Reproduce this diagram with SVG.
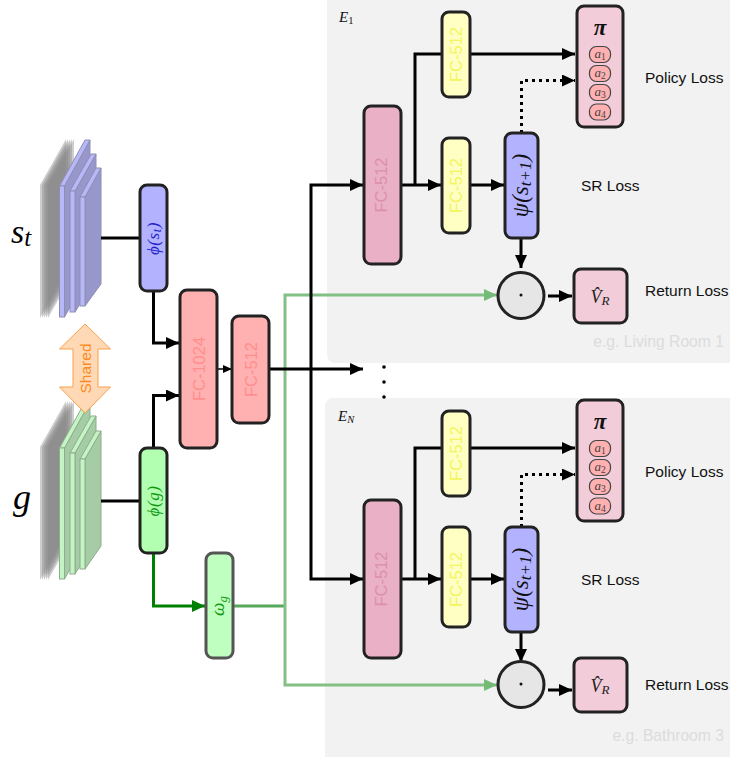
<svg xmlns="http://www.w3.org/2000/svg" xmlns:xlink="http://www.w3.org/1999/xlink" width="730" height="757" viewBox="0 0 730 757">
<style>
text{font-family:"Liberation Sans",Arial,sans-serif}
.m{font-family:"Liberation Serif","DejaVu Serif",serif;font-style:italic}
.r{font-style:normal}
.n{fill:#fff;stroke:#222;stroke-width:3}
.red{fill:#ffb0b0}.pink{fill:#eab0c6}.yel{fill:#ffffc4}.blu{fill:#b2b2ff}.grn{fill:#b2ffb2}.box{fill:#f2ccd9}
.fc{font-size:16.500px;text-anchor:middle}
.loss{font-size:15.500px;fill:#111}
.room{font-size:15.700px;fill:#dcdcdc;text-anchor:end}
.k{fill:none;stroke:#000;stroke-width:3}
.g{fill:none;stroke:#82c084;stroke-width:3}
.a{fill:#ffb0b0;stroke:#444;stroke-width:1.2}
</style>
<defs>
<marker id="ak" markerUnits="userSpaceOnUse" markerWidth="14" markerHeight="12" refX="13" refY="6" orient="auto"><path d="M0 0L13 6L0 12z" fill="#000"/></marker>
<marker id="as" markerUnits="userSpaceOnUse" markerWidth="9" markerHeight="8" refX="9" refY="4" orient="auto"><path d="M0 0L9 4L0 8z" fill="#000"/></marker>
<marker id="ag" markerUnits="userSpaceOnUse" markerWidth="14" markerHeight="12" refX="13" refY="6" orient="auto"><path d="M0 0L13 6L0 12z" fill="#008000"/></marker>
<marker id="al" markerUnits="userSpaceOnUse" markerWidth="14" markerHeight="12" refX="13" refY="6" orient="auto"><path d="M0 0L13 6L0 12z" fill="#74bb77"/></marker>
<g id="gray">
<path d="M40 185L66 139V272L40 318z" fill="#888" opacity=".42"/>
<path d="M42 185L68 139V272L42 318z" fill="#888" opacity=".42"/>
<path d="M44 185L70 139V272L44 318z" fill="#888" opacity=".42"/>
<path d="M46 185L72 139V272L46 318z" fill="#888" opacity=".42"/>
<path d="M48 185L74 139V272L48 318z" fill="#888" opacity=".42"/>
</g>
</defs>
<rect id="panel-e1" x="327" y="-20" width="420" height="383" rx="8" fill="#f2f2f2"/>
<rect id="panel-en" x="325" y="398" width="420" height="380" rx="8" fill="#f2f2f2"/>

<g id="stack-st">
<use xlink:href="#gray"/>
<g stroke="#8e8eb4" stroke-width="1">
<path d="M64.500 186L90 140V272L64.500 317z" fill="#9797cc"/><path d="M59.500 186L85 140H90L64.500 186z" fill="#b8b8f8"/><rect x="59.500" y="186" width="5" height="131" fill="#b8b8f8"/>
<path d="M75 191L96 154V278L75 312z" fill="#9797cc"/><path d="M70 191L91 154H96L75 191z" fill="#b8b8f8"/><rect x="70" y="191" width="5" height="121" fill="#b8b8f8"/>
<path d="M85 197L101 168V284L85 306z" fill="#9797cc"/><path d="M80 197L96 168H101L85 197z" fill="#b8b8f8"/><rect x="80" y="197" width="5" height="109" fill="#b8b8f8"/>
</g>
</g>
<g id="stack-g">
<use xlink:href="#gray" y="262"/>
<g stroke="#8eac8e" stroke-width="1">
<path d="M64.500 448L90 402V534L64.500 579z" fill="#a5cca5"/><path d="M59.500 448L85 402H90L64.500 448z" fill="#c4f4c4"/><rect x="59.500" y="448" width="5" height="131" fill="#c4f4c4"/>
<path d="M75 453L96 416V540L75 574z" fill="#a5cca5"/><path d="M70 453L91 416H96L75 453z" fill="#c4f4c4"/><rect x="70" y="453" width="5" height="121" fill="#c4f4c4"/>
<path d="M85 459L101 431V546L85 569z" fill="#a5cca5"/><path d="M80 459L96 431H101L85 459z" fill="#c4f4c4"/><rect x="80" y="459" width="5" height="110" fill="#c4f4c4"/>
</g>
</g>
<g id="label-st"><text class="m" x="11" y="243" font-size="34">s<tspan font-size="25" dy="3">t</tspan></text></g>
<g id="label-g"><text class="m" x="13" y="509" font-size="36">g</text></g>

<g id="shared">
<path d="M85 324L110.500 349H98V387H110.500L85 413L59.500 387H73V349H59.500z" fill="#ffd8b5" stroke="#f9a04a" stroke-width="1"/>
<text transform="translate(90.500 368.500) rotate(-90)" font-size="15.500" text-anchor="middle" fill="#f98a20">Shared</text>
</g>

<g id="connectors">
<path class="k" d="M101 238H140"/>
<path class="k" d="M153.500 291V343H179" marker-end="url(#ak)"/>
<path class="k" d="M153.500 448V395.500H179" marker-end="url(#ak)"/>
<path d="M217 369H232" stroke="#000" stroke-width="1.500" marker-end="url(#as)"/>
<path d="M101 501H140" class="k"/>
<path d="M153.500 553V606H205" fill="none" stroke="#008000" stroke-width="3" marker-end="url(#ag)"/>
<path d="M233 606H285" fill="none" stroke="#57a85a" stroke-width="3"/>
<path class="g" d="M285 606V295H497" marker-end="url(#al)"/>
<path class="g" d="M285 606V685H497" marker-end="url(#al)"/>
<path class="k" d="M311 369V185H363" marker-end="url(#ak)"/>
<path class="k" d="M311 369V579H363" marker-end="url(#ak)"/>
<path class="k" d="M269 369H363" marker-end="url(#ak)"/>

<path class="k" d="M401 185H441" marker-end="url(#ak)"/>
<path class="k" d="M415 185V54H575" marker-end="url(#ak)"/>
<path class="k" d="M470 185H504" marker-end="url(#ak)"/>
<path class="k" d="M521.500 133V80.500H575" stroke-dasharray="3 4" marker-end="url(#ak)"/>
<path class="k" d="M521 238V268" marker-end="url(#ak)"/>
<path class="k" d="M548 296H572" marker-end="url(#ak)"/>

<path class="k" d="M401 579H441" marker-end="url(#ak)"/>
<path class="k" d="M415 579V448H575" marker-end="url(#ak)"/>
<path class="k" d="M470 579H504" marker-end="url(#ak)"/>
<path class="k" d="M521.500 527V474.500H575" stroke-dasharray="3 4" marker-end="url(#ak)"/>
<path class="k" d="M521 632V662" marker-end="url(#ak)"/>
<path class="k" d="M548 690H572" marker-end="url(#ak)"/>
</g>

<g id="phi-st"><rect class="n blu" x="140" y="185" width="27" height="106" rx="7"/>
<text class="m" transform="translate(158.500 238.500) rotate(-90)" font-size="17" text-anchor="middle" fill="#2222cc" letter-spacing=".6">ϕ(s<tspan font-size="12" dy="2">t</tspan><tspan dy="-2">)</tspan></text></g>
<g id="phi-g"><rect class="n grn" x="140" y="448" width="27" height="105" rx="7"/>
<text class="m" transform="translate(158.500 501) rotate(-90)" font-size="17" text-anchor="middle" fill="#119911" letter-spacing=".6">ϕ(g)</text></g>
<g id="fc-1024"><rect class="n red" x="180" y="290" width="37" height="158" rx="7"/>
<text class="fc" transform="translate(204.500 369) rotate(-90)" fill="#ff8f8f">FC-1024</text></g>
<g id="fc-512-shared"><rect class="n red" x="232" y="316" width="37" height="107" rx="7"/>
<text class="fc" transform="translate(256.500 369.500) rotate(-90)" fill="#ff8f8f">FC-512</text></g>
<g id="omega-g"><rect x="206" y="553" width="27" height="105" rx="7" fill="#bfffbf" stroke="#555" stroke-width="3"/>
<text class="m" transform="translate(224 606) rotate(-90)" font-size="19" text-anchor="middle" fill="#119911">ω<tspan font-size="13" dy="3">g</tspan></text></g>

<g id="e1-title"><text class="m" x="339" y="22" font-size="15" fill="#111">E<tspan class="r" font-size="10.500" dy="2">1</tspan></text></g>
<g id="fc-big-1"><rect class="n pink" x="364" y="106" width="37" height="158" rx="7"/>
<text class="fc" transform="translate(387 185) rotate(-90)" fill="#dd8fae">FC-512</text></g>
<g id="fc-a-1"><rect class="n yel" x="442" y="12" width="28" height="85" rx="7"/>
<text class="fc" transform="translate(462 54.500) rotate(-90)" fill="#f4f460">FC-512</text></g>
<g id="fc-b-1"><rect class="n yel" x="442" y="138" width="28" height="95" rx="7"/>
<text class="fc" transform="translate(462 185.500) rotate(-90)" fill="#f4f460">FC-512</text></g>
<g id="psi-1"><rect class="n blu" x="505" y="133" width="33" height="105" rx="7"/>
<text class="m" transform="translate(528 185.500) rotate(-90)" font-size="23" text-anchor="middle" fill="#111">ψ(s<tspan font-size="17" dy="3">t+1</tspan><tspan dy="-3">)</tspan></text></g>
<g id="pi-1"><rect class="n box" x="577" y="6" width="46" height="121" rx="7"/>
<text class="m" x="600" y="35" font-size="23" font-weight="bold" text-anchor="middle" fill="#111">π</text>
<rect class="a" x="589.500" y="46.500" width="21" height="16" rx="7"/><text class="m" x="600" y="58" font-size="13" text-anchor="middle" fill="#444">a<tspan class="r" font-size="9.500" dy="2">1</tspan></text>
<rect class="a" x="589.500" y="65.500" width="21" height="16" rx="7"/><text class="m" x="600" y="77" font-size="13" text-anchor="middle" fill="#444">a<tspan class="r" font-size="9.500" dy="2">2</tspan></text>
<rect class="a" x="589.500" y="84.500" width="21" height="16" rx="7"/><text class="m" x="600" y="96" font-size="13" text-anchor="middle" fill="#444">a<tspan class="r" font-size="9.500" dy="2">3</tspan></text>
<rect class="a" x="589.500" y="104" width="21" height="16" rx="7"/><text class="m" x="600" y="115.500" font-size="13" text-anchor="middle" fill="#444">a<tspan class="r" font-size="9.500" dy="2">4</tspan></text></g>
<g id="dot-1"><circle cx="521" cy="295.500" r="23" fill="#e6e6e6" stroke="#222" stroke-width="3"/><circle cx="521" cy="295" r="1.500" fill="#111"/></g>
<g id="v-1"><rect class="n box" x="574" y="269" width="53" height="54" rx="7"/>
<text class="m" x="600" y="303" font-size="18" text-anchor="middle" fill="#222">V̂<tspan font-size="13" dy="2">R</tspan></text></g>
<g id="loss-1"><text class="loss" x="645" y="83">Policy Loss</text><text class="loss" x="581" y="191">SR Loss</text><text class="loss" x="645" y="296">Return Loss</text><text class="room" x="724" y="347">e.g. Living Room 1</text></g>

<g id="ellipsis"><circle cx="384" cy="367" r="1.800" fill="#000"/><circle cx="384" cy="382" r="1.800" fill="#000"/><circle cx="384" cy="397" r="1.800" fill="#000"/></g>

<g id="en-title"><text class="m" x="338" y="421" font-size="15" fill="#111">E<tspan font-size="10.500" dy="2">N</tspan></text></g>
<g id="fc-big-n"><rect class="n pink" x="364" y="500" width="37" height="158" rx="7"/>
<text class="fc" transform="translate(387 579) rotate(-90)" fill="#dd8fae">FC-512</text></g>
<g id="fc-a-n"><rect class="n yel" x="442" y="411" width="28" height="85" rx="7"/>
<text class="fc" transform="translate(462 453.500) rotate(-90)" fill="#f4f460">FC-512</text></g>
<g id="fc-b-n"><rect class="n yel" x="442" y="527" width="28" height="100" rx="7"/>
<text class="fc" transform="translate(462 579.500) rotate(-90)" fill="#f4f460">FC-512</text></g>
<g id="psi-n"><rect class="n blu" x="505" y="527" width="33" height="105" rx="7"/>
<text class="m" transform="translate(528 579.500) rotate(-90)" font-size="23" text-anchor="middle" fill="#111">ψ(s<tspan font-size="17" dy="3">t+1</tspan><tspan dy="-3">)</tspan></text></g>
<g id="pi-n"><rect class="n box" x="577" y="400" width="46" height="121" rx="7"/>
<text class="m" x="600" y="429" font-size="23" font-weight="bold" text-anchor="middle" fill="#111">π</text>
<rect class="a" x="589.500" y="440.500" width="21" height="16" rx="7"/><text class="m" x="600" y="452" font-size="13" text-anchor="middle" fill="#444">a<tspan class="r" font-size="9.500" dy="2">1</tspan></text>
<rect class="a" x="589.500" y="459.500" width="21" height="16" rx="7"/><text class="m" x="600" y="471" font-size="13" text-anchor="middle" fill="#444">a<tspan class="r" font-size="9.500" dy="2">2</tspan></text>
<rect class="a" x="589.500" y="478.500" width="21" height="16" rx="7"/><text class="m" x="600" y="490" font-size="13" text-anchor="middle" fill="#444">a<tspan class="r" font-size="9.500" dy="2">3</tspan></text>
<rect class="a" x="589.500" y="498" width="21" height="16" rx="7"/><text class="m" x="600" y="509.500" font-size="13" text-anchor="middle" fill="#444">a<tspan class="r" font-size="9.500" dy="2">4</tspan></text></g>
<g id="dot-n"><circle cx="521" cy="684.500" r="23" fill="#e6e6e6" stroke="#222" stroke-width="3"/><circle cx="521" cy="684" r="1.500" fill="#111"/></g>
<g id="v-n"><rect class="n box" x="574" y="658" width="53" height="54" rx="7"/>
<text class="m" x="600" y="692" font-size="18" text-anchor="middle" fill="#222">V̂<tspan font-size="13" dy="2">R</tspan></text></g>
<g id="loss-n"><text class="loss" x="645" y="477">Policy Loss</text><text class="loss" x="581" y="585">SR Loss</text><text class="loss" x="645" y="690">Return Loss</text><text class="room" x="724" y="741">e.g. Bathroom 3</text></g>
</svg>
